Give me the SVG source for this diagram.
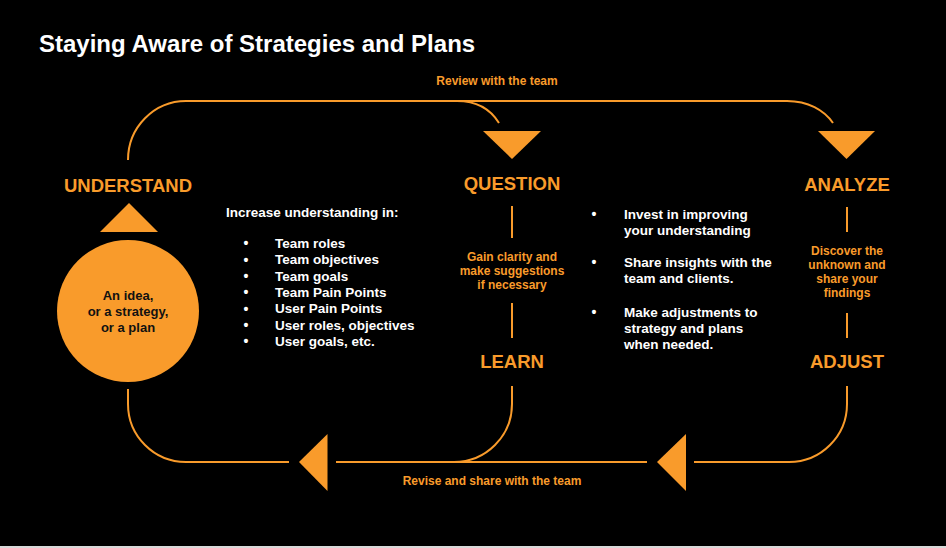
<svg xmlns="http://www.w3.org/2000/svg" width="946" height="548" viewBox="0 0 946 548">
<style>
.t{font-family:"Liberation Sans",Arial,sans-serif;font-weight:bold}
.title{font-size:24px;fill:#fff}
.stage{font-size:18.5px;fill:#f99b2b;text-anchor:middle}
.note{font-size:12px;fill:#f99b2b;text-anchor:middle}
.list{font-size:13.5px;fill:#fff}
.bul{font-size:14px;fill:#fff;text-anchor:middle}
.circ{font-size:13px;fill:#111;text-anchor:middle}
.ln{fill:none;stroke:#f99b2b;stroke-width:2}
.tri{fill:#f99b2b}
</style>
<rect width="946" height="548" fill="#000"/>
<rect y="546" width="946" height="2" fill="#d9d9d9"/>
<text class="t title" x="39" y="52">Staying Aware of Strategies and Plans</text>

<g id="connectors">
<path class="ln" d="M128,160 A58,59 0 0 1 186,101 L787,101"/>
<path class="ln" d="M457,101 C477,101 491,110 499,123"/>
<path class="ln" d="M787,101 C808,101 824,110 833,123"/>
<path class="ln" d="M512,206 V238 M512,303 V338"/>
<path class="ln" d="M847,207 V232 M847,313 V338"/>
<path class="ln" d="M128,389 V404 A58,58 0 0 0 186,462 H289"/>
<path class="ln" d="M336,462 H647"/>
<path class="ln" d="M512,386 V404 A58,58 0 0 1 454,462"/>
<path class="ln" d="M694,462 H789 A58,58 0 0 0 847,404 V386"/>
<polygon class="tri" points="483,131 541,131 512,159"/>
<polygon class="tri" points="818,131 875,131 846.5,159"/>
<polygon class="tri" points="129,203 158,232 100,232"/>
<polygon class="tri" points="299,462 327.5,434 327.5,491"/>
<polygon class="tri" points="657,462 686,434 686,491"/>
<text class="t note" x="497" y="85">Review with the team</text>
<text class="t note" x="492" y="485">Revise and share with the team</text>
</g>

<g id="understand">
<text class="t stage" x="128" y="192">UNDERSTAND</text>
<circle cx="128" cy="311" r="71" fill="#f99b2b"/>
<text class="t circ" x="128" y="300">An idea,</text>
<text class="t circ" x="128" y="316">or a strategy,</text>
<text class="t circ" x="128" y="332">or a plan</text>
</g>

<g id="understand-list">
<text class="t list" x="226" y="217">Increase understanding in:</text>
<g class="t bul">
<text x="246" y="248.3">•</text>
<text x="246" y="264.6">•</text>
<text x="246" y="280.9">•</text>
<text x="246" y="297.2">•</text>
<text x="246" y="313.5">•</text>
<text x="246" y="329.8">•</text>
<text x="246" y="346.1">•</text>
</g>
<g class="t list">
<text x="275" y="248">Team roles</text>
<text x="275" y="264.3">Team objectives</text>
<text x="275" y="280.6">Team goals</text>
<text x="275" y="296.9">Team Pain Points</text>
<text x="275" y="313.2">User Pain Points</text>
<text x="275" y="329.5">User roles, objectives</text>
<text x="275" y="345.8">User goals, etc.</text>
</g>
</g>

<g id="question">
<text class="t stage" x="512" y="190">QUESTION</text>
<text class="t note" x="512" y="261">Gain clarity and</text>
<text class="t note" x="512" y="275">make suggestions</text>
<text class="t note" x="512" y="289">if necessary</text>
</g>

<g id="learn">
<text class="t stage" x="512" y="368">LEARN</text>
</g>

<g id="actions-list">
<g class="t bul">
<text x="594" y="219.3">•</text>
<text x="594" y="267.3">•</text>
<text x="594" y="317.3">•</text>
</g>
<g class="t list">
<text x="624" y="219">Invest in improving</text>
<text x="624" y="235">your understanding</text>
<text x="624" y="267">Share insights with the</text>
<text x="624" y="283">team and clients.</text>
<text x="624" y="317">Make adjustments to</text>
<text x="624" y="333">strategy and plans</text>
<text x="624" y="349">when needed.</text>
</g>
</g>

<g id="analyze">
<text class="t stage" x="847" y="191">ANALYZE</text>
<text class="t note" x="847" y="255">Discover the</text>
<text class="t note" x="847" y="269">unknown and</text>
<text class="t note" x="847" y="283">share your</text>
<text class="t note" x="847" y="297">findings</text>
</g>

<g id="adjust">
<text class="t stage" x="847" y="368">ADJUST</text>
</g>
</svg>
